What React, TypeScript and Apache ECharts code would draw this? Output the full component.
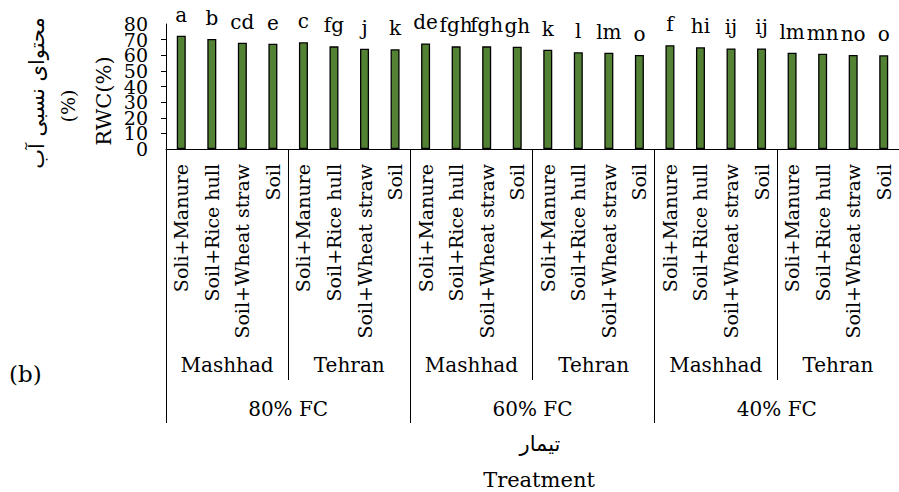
import React, { useEffect, useRef } from "react";
import * as echarts from "echarts";

const treatments = [
  "Soli+Manure", "Soil+Rice hull", "Soil+Wheat straw", "Soil",
  "Soli+Manure", "Soil+Rice hull", "Soil+Wheat straw", "Soil",
  "Soli+Manure", "Soil+Rice hull", "Soil+Wheat straw", "Soil",
  "Soli+Manure", "Soil+Rice hull", "Soil+Wheat straw", "Soil",
  "Soli+Manure", "Soil+Rice hull", "Soil+Wheat straw", "Soil",
  "Soli+Manure", "Soil+Rice hull", "Soil+Wheat straw", "Soil",
];
const sites = ["Mashhad", "Tehran", "Mashhad", "Tehran", "Mashhad", "Tehran"];
const irrigation = ["80% FC", "60% FC", "40% FC"];
const rwc = [
  72.5, 70.4, 68.0, 67.4,
  68.3, 65.7, 64.2, 63.8,
  67.6, 65.7, 65.7, 65.5,
  63.6, 61.9, 61.6, 60.2,
  66.4, 65.1, 64.4, 64.4,
  61.6, 61.0, 60.2, 60.0,
];
const letters = [
  "a", "b", "cd", "e",
  "c", "fg", "j", "k",
  "de", "fgh", "fgh", "gh",
  "k", "l", "lm", "o",
  "f", "hi", "ij", "ij",
  "lm", "mn", "no", "o",
];
const yTicks = [0, 10, 20, 30, 40, 50, 60, 70, 80];

const FONT = "DejaVu Serif";
const AR_FONT = "DejaVu Serif, DejaVu Sans";

export default function App() {
  const ref = useRef<HTMLDivElement>(null);
  useEffect(() => {
    if (!ref.current) return;
    const chart = echarts.init(ref.current, undefined, { renderer: "svg" });
    const lineStyle = { color: "#000", width: 1 };
    const yMin = yTicks[0];
    const yMax = yTicks[yTicks.length - 1];
    const yLabel = { margin: 18, fontSize: 19, fontFamily: FONT, color: "#000" };
    chart.setOption({
      animation: false,
      textStyle: { fontFamily: FONT, color: "#000" },
      grid: { left: 166, top: 24, width: 741, height: 125, containLabel: false },
      xAxis: [
        {
          type: "category",
          position: "bottom",
          data: treatments,
          axisLine: { show: true, lineStyle },
          axisTick: { show: false },
          axisLabel: { interval: 0, rotate: 90, margin: 15, fontSize: 19, fontFamily: FONT, color: "#000" },
        },
        {
          type: "category",
          position: "bottom",
          data: sites,
          axisLine: { show: false },
          axisTick: { show: true, interval: 0, length: 231, lineStyle },
          axisLabel: { interval: 0, margin: 206, fontSize: 20, fontFamily: FONT, color: "#000" },
        },
        {
          type: "category",
          position: "bottom",
          data: irrigation,
          axisLine: { show: false },
          axisTick: { show: true, interval: 0, length: 274, lineStyle },
          axisLabel: { interval: 0, margin: 250, fontSize: 20, fontFamily: FONT, color: "#000" },
        },
      ],
      yAxis: [
        {
          type: "value",
          position: "left",
          min: yMin,
          max: yMax,
          interval: 20,
          splitLine: { show: false },
          axisLine: { show: false },
          axisTick: { show: false },
          axisLabel: { ...yLabel, showMinLabel: true, showMaxLabel: true },
        },
        {
          type: "value",
          position: "left",
          offset: 0,
          min: yMin,
          max: yMax,
          interval: 10,
          splitLine: { show: false },
          axisLine: { show: true, lineStyle },
          axisTick: { show: true, length: 5, lineStyle },
          axisLabel: {
            ...yLabel,
            showMinLabel: false,
            showMaxLabel: false,
            formatter: (v: number) => (v % 20 === 10 ? String(v) : ""),
          },
        },
      ],
      series: [
        {
          type: "bar",
          xAxisIndex: 0,
          yAxisIndex: 0,
          data: rwc,
          barWidth: 9,
          itemStyle: { color: "#548235", borderColor: "#000", borderWidth: 1.3 },
          label: {
            show: true,
            position: "top",
            distance: 11,
            fontSize: 20,
            fontFamily: FONT,
            color: "#000",
            formatter: (p: any) => letters[p.dataIndex],
          },
        },
      ],
      graphic: [
        {
          type: "text",
          x: 37,
          y: 93,
          rotation: Math.PI / 2,
          style: { text: "محتوای نسبی آب", fontSize: 21, fontFamily: AR_FONT, align: "center", verticalAlign: "middle", fill: "#000" },
        },
        {
          type: "text",
          x: 68,
          y: 106,
          rotation: Math.PI / 2,
          style: { text: "(%)", fontSize: 19, fontFamily: FONT, align: "center", verticalAlign: "middle", fill: "#000" },
        },
        {
          type: "text",
          x: 104,
          y: 101,
          rotation: Math.PI / 2,
          style: { text: "RWC(%)", fontSize: 21, fontFamily: FONT, align: "center", verticalAlign: "middle", fill: "#000" },
        },
        {
          type: "text",
          x: 9,
          y: 374,
          style: { text: "(b)", fontSize: 23, fontFamily: FONT, align: "left", verticalAlign: "middle", fill: "#000" },
        },
        {
          type: "text",
          x: 540,
          y: 444,
          style: { text: "تیمار", fontSize: 21, fontFamily: AR_FONT, align: "center", verticalAlign: "middle", fill: "#000" },
        },
        {
          type: "text",
          x: 539,
          y: 480,
          style: { text: "Treatment", fontSize: 21, fontFamily: FONT, align: "center", verticalAlign: "middle", fill: "#000" },
        },
      ],
    });
    return () => chart.dispose();
  }, []);
  return (
    <div
      ref={ref}
      style={{ position: "fixed", left: 0, top: 0, width: 899, height: 492, background: "#fff" }}
    />
  );
}
